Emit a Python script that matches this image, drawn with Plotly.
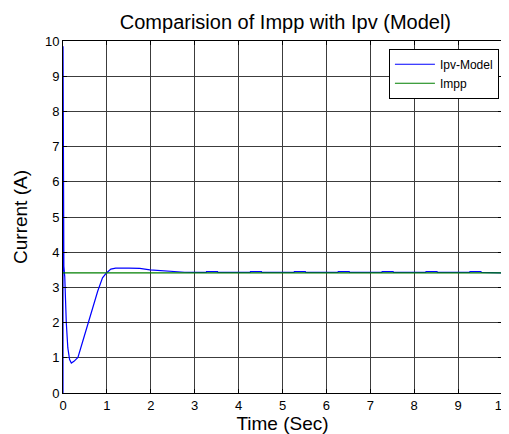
import plotly.graph_objects as go

# Ipv-Model (blue) trace
t_model = [0, 0.001, 0.02, 0.04, 0.075, 0.11, 0.15, 0.19, 0.25, 0.34, 0.45, 0.56, 0.67, 0.79,
           0.90, 0.99, 1.09, 1.2, 1.5, 1.75, 1.98, 2.25, 2.52, 2.77,
           3.0, 3.26, 3.27, 3.52, 3.53, 3.76, 3.77,
           4.0, 4.26, 4.27, 4.52, 4.53, 4.76, 4.77,
           5.0, 5.26, 5.27, 5.52, 5.53, 5.76, 5.77,
           6.0, 6.26, 6.27, 6.52, 6.53, 6.76, 6.77,
           7.0, 7.26, 7.27, 7.52, 7.53, 7.76, 7.77,
           8.0, 8.26, 8.27, 8.52, 8.53, 8.76, 8.77,
           9.0, 9.26, 9.27, 9.52, 9.53, 9.76, 9.77, 10.0]
i_model = [0, 9.85, 3.6, 3.3, 2.0, 1.28, 0.95, 0.85, 0.9, 1.01, 1.47, 1.94, 2.41, 2.89,
           3.27, 3.41, 3.52, 3.55, 3.55, 3.54, 3.50, 3.47, 3.45, 3.43,
           3.425, 3.425, 3.45, 3.45, 3.425, 3.425, 3.41,
           3.425, 3.425, 3.45, 3.45, 3.425, 3.425, 3.41,
           3.425, 3.425, 3.45, 3.45, 3.425, 3.425, 3.41,
           3.425, 3.425, 3.45, 3.45, 3.425, 3.425, 3.41,
           3.425, 3.425, 3.45, 3.45, 3.425, 3.425, 3.41,
           3.425, 3.425, 3.45, 3.45, 3.425, 3.425, 3.41,
           3.425, 3.425, 3.45, 3.45, 3.425, 3.425, 3.41, 3.41]

# Impp (green) trace
t_impp = [0, 10]
i_impp = [3.41, 3.41]

x_ticks = [0, 1, 2, 3, 4, 5, 6, 7, 8, 9, 10]
y_ticks = [0, 1, 2, 3, 4, 5, 6, 7, 8, 9, 10]

FONT = "Arial, Liberation Sans, Helvetica, sans-serif"

fig = go.Figure()
fig.add_trace(go.Scatter(x=t_model, y=i_model, mode="lines", name="Ipv-Model",
                         line=dict(color="#0000ff", width=1.2)))
fig.add_trace(go.Scatter(x=t_impp, y=i_impp, mode="lines", name="Impp",
                         line=dict(color="#007f00", width=1.2)))

axis_common = dict(showline=True, linecolor="black", linewidth=1, mirror="ticks",
                   ticks="inside", ticklen=4, tickcolor="black",
                   showgrid=True, gridcolor="#3c3c3c", gridwidth=1, zeroline=False,
                   tickfont=dict(family=FONT, size=13, color="black"))

fig.update_layout(
    width=509, height=434,
    margin=dict(l=55, r=8, t=33, b=49),
    paper_bgcolor="white", plot_bgcolor="white",
    title=dict(text="Comparision of Impp with Ipv (Model)", x=0.545, xanchor="center",
               y=1 - 14 / 434, yanchor="middle",
               font=dict(family=FONT, size=20, color="black")),
    xaxis=dict(range=[0, 10], tickvals=x_ticks, ticktext=[str(v) for v in x_ticks],
               title=dict(text="Time (Sec)", font=dict(family=FONT, size=19, color="black"), standoff=0),
               **axis_common),
    yaxis=dict(range=[0, 10], tickvals=y_ticks, ticktext=[str(v) for v in y_ticks],
               title=dict(text="Current (A)", font=dict(family=FONT, size=19, color="black"), standoff=12),
               **axis_common),
    showlegend=True,
    legend=dict(x=0.993, y=0.978, xanchor="right", yanchor="top",
                bgcolor="white", bordercolor="black", borderwidth=1,
                font=dict(family=FONT, size=12, color="black"),
                tracegroupgap=0, itemwidth=40),
)

fig.write_html("out.html")
